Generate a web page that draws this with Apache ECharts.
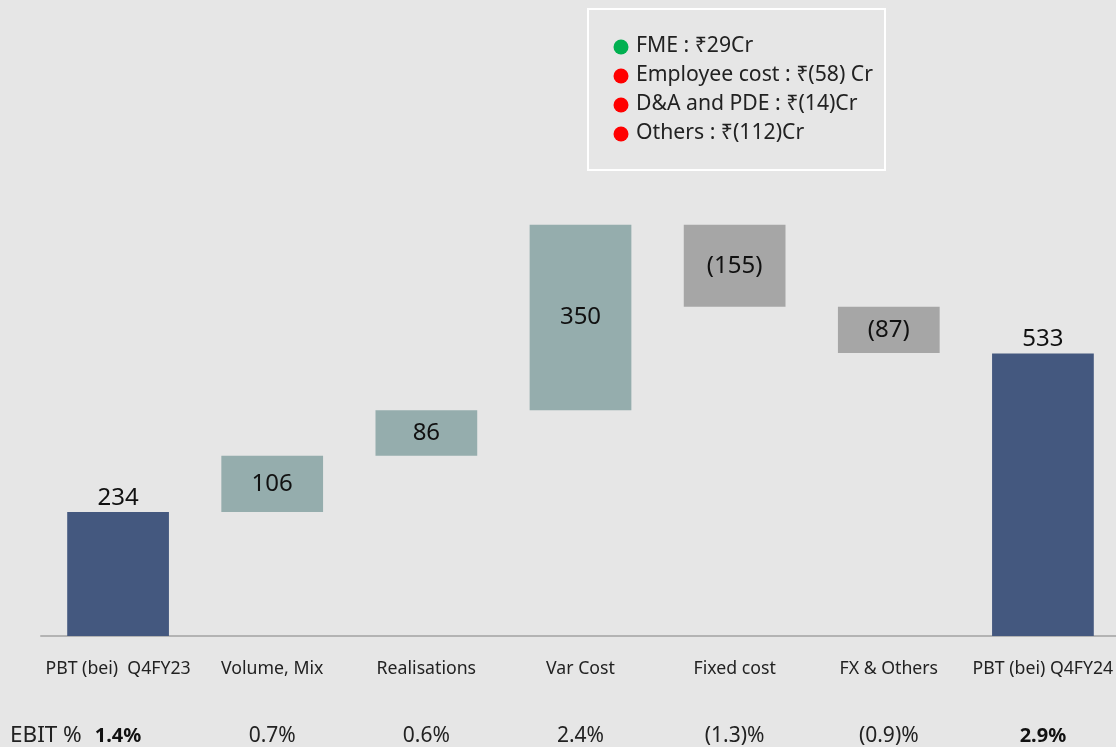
<!DOCTYPE html>
<html>
<head>
<meta charset="utf-8">
<script src="https://cdn.jsdelivr.net/npm/echarts@6/dist/echarts.min.js"></script>
<style>
html,body{margin:0;padding:0;background:#e6e6e6;overflow:hidden;}
#c{width:1120px;height:747px;}
</style>
</head>
<body>
<div id="c"></div>
<script>
const categories = ['PBT (bei)  Q4FY23', 'Volume, Mix', 'Realisations', 'Var Cost', 'Fixed cost', 'FX & Others', 'PBT (bei) Q4FY24'];
const startValue = 234;
const deltas = [106, 86, 350, -155, -87];
const endValue = 533;
const ebitLabels = ['1.4%', '0.7%', '0.6%', '2.4%', '(1.3)%', '(0.9)%', '2.9%'];
const ebitBold = [true, false, false, false, false, false, true];
const noteTexts = ['FME : ₹29Cr', 'Employee cost : ₹(58) Cr', 'D&A and PDE : ₹(14)Cr', 'Others : ₹(112)Cr'];
const noteColors = ['#00b050', '#ff0000', '#ff0000', '#ff0000'];

const FONT = '"Noto Sans", "DejaVu Sans", sans-serif';
const BLUE = '#44587f', TEAL = '#95adad', GREY = '#a6a6a6';

// build waterfall
const baseData = [], barData = [];
baseData.push(0);
barData.push({value: startValue, itemStyle: {color: BLUE}, label: {position: 'top', formatter: String(startValue)}});
let running = startValue;
deltas.forEach(d => {
  const lo = d >= 0 ? running : running + d;
  baseData.push(lo);
  barData.push({value: Math.abs(d), itemStyle: {color: d >= 0 ? TEAL : GREY},
    label: {position: 'inside', formatter: d >= 0 ? String(d) : '(' + Math.abs(d) + ')'}});
  running += d;
});
baseData.push(0);
barData.push({value: endValue, itemStyle: {color: BLUE}, label: {position: 'top', formatter: String(endValue)}});

const graphics = [];
graphics.push({type: 'rect', shape: {x: 588, y: 9, width: 297, height: 161},
  style: {fill: 'rgba(0,0,0,0)', stroke: '#ffffff', lineWidth: 2}});
noteTexts.forEach((t, i) => {
  const y = 46 + i * 29;
  graphics.push({type: 'circle', shape: {cx: 621, cy: y + 1, r: 7.5}, style: {fill: noteColors[i]}});
  graphics.push({type: 'text', x: 636, y: y, style: {text: t, font: '21.2px ' + FONT, fill: '#222', textVerticalAlign: 'middle', verticalAlign: 'middle'}});
});
graphics.push({type: 'text', x: 10, y: 736, style: {text: 'EBIT %', font: '22.5px ' + FONT, fill: '#222', verticalAlign: 'middle', textVerticalAlign: 'middle'}});

const chart = echarts.init(document.getElementById('c'), null, {renderer: 'canvas'});
chart.setOption({
  backgroundColor: '#e6e6e6',
  animation: false,
  grid: {left: 41, right: 0, top: 106, bottom: 111},
  xAxis: [{
    type: 'category', data: categories, position: 'bottom',
    axisLine: {lineStyle: {color: '#b3b3b3', width: 2}},
    axisTick: {show: false},
    axisLabel: {color: '#222', fontSize: 17.7, fontFamily: FONT, margin: 24, interval: 0}
  }, {
    type: 'category', data: ebitLabels.map((l, i) => ebitBold[i] ? '{b|' + l + '}' : l),
    position: 'bottom', axisLine: {show: false}, axisTick: {show: false},
    axisLabel: {color: '#222', fontSize: 21, fontFamily: FONT, margin: 90, interval: 0,
      rich: {b: {fontWeight: 'bold', fontSize: 20, fontFamily: FONT, color: '#111'}}}
  }],
  yAxis: {type: 'value', min: 0, max: 1000, show: false, splitLine: {show: false}},
  series: [{
    type: 'bar', stack: 'w', data: baseData, barWidth: '66%',
    itemStyle: {color: 'rgba(0,0,0,0)'}, emphasis: {disabled: true}, silent: true
  }, {
    type: 'bar', stack: 'w', data: barData, barWidth: '66%',
    label: {show: true, color: '#111', fontSize: 24, fontFamily: FONT, distance: 2}
  }],
  graphic: graphics
});
</script>
</body>
</html>
